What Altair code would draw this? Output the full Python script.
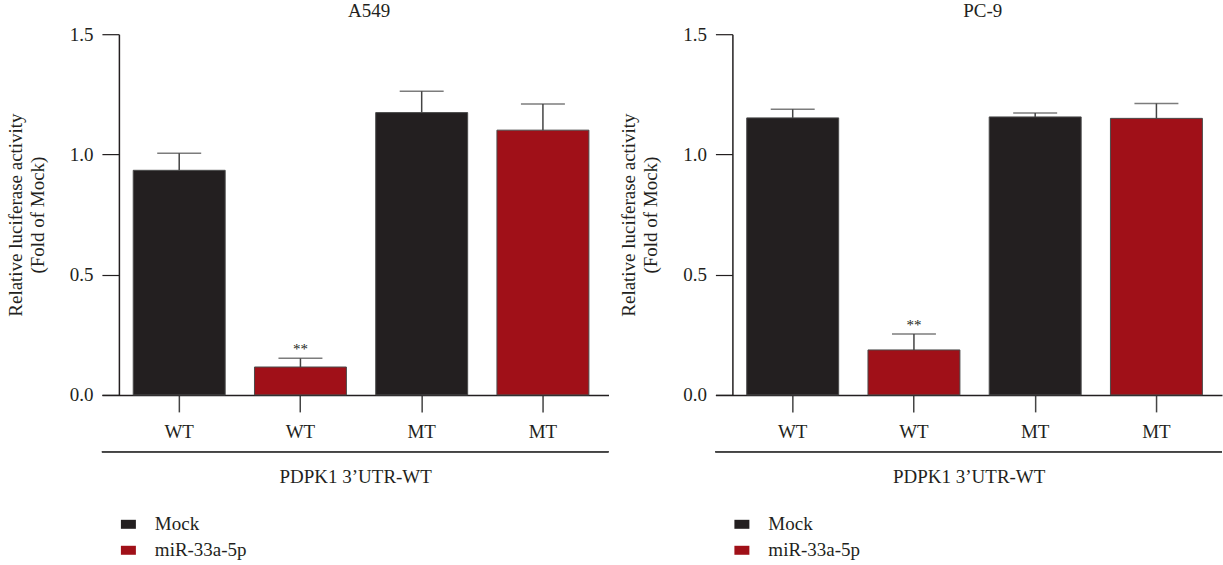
import altair as alt
import pandas as pd

# ---- data ----
genotype = ["WT", "WT", "MT", "MT"]
treatment = ["Mock", "miR-33a-5p", "Mock", "miR-33a-5p"]
a549_mean = [0.934, 0.116, 1.174, 1.101]
a549_err = [0.071, 0.036, 0.089, 0.109]
pc9_mean = [1.152, 0.187, 1.156, 1.150]
pc9_err = [0.036, 0.066, 0.016, 0.062]
a549_stars = ["", "**", "", ""]
pc9_stars = ["", "**", "", ""]
panel_titles = ["A549", "PC-9"]
x_title = "PDPK1 3\u2019UTR-WT"
y_title = ["Relative luciferase activity", "(Fold of Mock)"]
legend_domain = ["Mock", "miR-33a-5p"]
legend_colors = ["#231f20", "#a01018"]

FONT = "Liberation Serif"
FS = 19
W, H = 507, 361


def frame(means, errs, stars):
    ids = [f"{g}|{i}" for i, g in enumerate(genotype)]
    return pd.DataFrame({
        "cid": ids,
        "treat": treatment,
        "mean": means,
        "top": [m + e for m, e in zip(means, errs)],
        "star": stars,
    }), ids


def panel(title, means, errs, stars):
    df, ids = frame(means, errs, stars)
    xscale = alt.Scale(paddingInner=0.2416, paddingOuter=0.21, align=0.615)
    x = alt.X("cid:N", sort=ids, scale=xscale,
              axis=alt.Axis(labelExpr="split(datum.value, '|')[0]", title=x_title,
                            labelAngle=0, tickSize=17, labelPadding=11, grid=False,
                            labelFontSize=FS, titleFontSize=FS, titlePadding=26,
                            domainColor="#231f20", tickColor="#444", tickWidth=1.5,
                            domainWidth=1.5, labelColor="#231f20", titleColor="#231f20",
                            titleFontWeight="normal", labelFont=FONT, titleFont=FONT))
    yscale = alt.Scale(domain=[0, 1.5], nice=False, zero=True)
    y = alt.Y("mean:Q", scale=yscale,
              axis=alt.Axis(values=[0, 0.5, 1.0, 1.5], format=".1f", title=y_title,
                            offset=-17, tickSize=17, labelPadding=9, grid=False,
                            labelFontSize=FS, titleFontSize=FS, titlePadding=22,
                            titleLineHeight=22,
                            domainColor="#231f20", tickColor="#231f20",
                            domainWidth=1.5, tickWidth=1.2,
                            labelColor="#231f20", titleColor="#231f20",
                            titleFontWeight="normal", labelFont=FONT, titleFont=FONT))
    color = alt.Color("treat:N",
                      scale=alt.Scale(domain=legend_domain, range=legend_colors),
                      legend=alt.Legend(title=None, orient="none", legendX=17, legendY=481,
                                        symbolType="M-1,-0.6L1,-0.6L1,0.6L-1,0.6Z",
                                        symbolSize=225, symbolStrokeWidth=0,
                                        labelFontSize=FS, labelFont=FONT, labelColor="#231f20",
                                        labelOffset=17, rowPadding=6))
    base = alt.Chart(df)
    bars = base.mark_bar(stroke="#4a4a4a", strokeWidth=1).encode(x=x, y=y, color=color)
    err = base.mark_rule(color="#444", strokeWidth=1.5).encode(
        x=alt.X("cid:N", sort=ids), y="mean:Q", y2="top:Q")
    cap = base.mark_tick(color="#444", thickness=1.5, size=44, orient="horizontal").encode(
        x=alt.X("cid:N", sort=ids), y="top:Q")
    star = base.mark_text(font=FONT, fontSize=15, baseline="bottom", dy=-1, color="#231f20").encode(
        x=alt.X("cid:N", sort=ids), y="top:Q", text="star:N")
    bracket = alt.Chart(df).mark_rule(color="#444", strokeWidth=1.5).encode(
        x=alt.value(0), x2=alt.value(W), y=alt.value(418))
    return alt.layer(bars, err, cap, star, bracket).properties(
        width=W, height=H,
        view=alt.ViewBackground(stroke="transparent", strokeWidth=0),
        title=alt.TitleParams(title, font=FONT, fontSize=FS, fontWeight="normal",
                              color="#231f20", offset=4, dx=14),
    )


left = panel(panel_titles[0], a549_mean, a549_err, a549_stars)
right = panel(panel_titles[1], pc9_mean, pc9_err, pc9_stars)

chart = alt.hconcat(left, right, spacing=10).resolve_scale(color="independent").properties(
    padding={"left": 6, "top": 2, "right": 0, "bottom": 0}
).configure_view(stroke="transparent", strokeWidth=0).configure(background="white")

chart.save("out.html", embed_options={"renderer": "svg", "actions": False})
